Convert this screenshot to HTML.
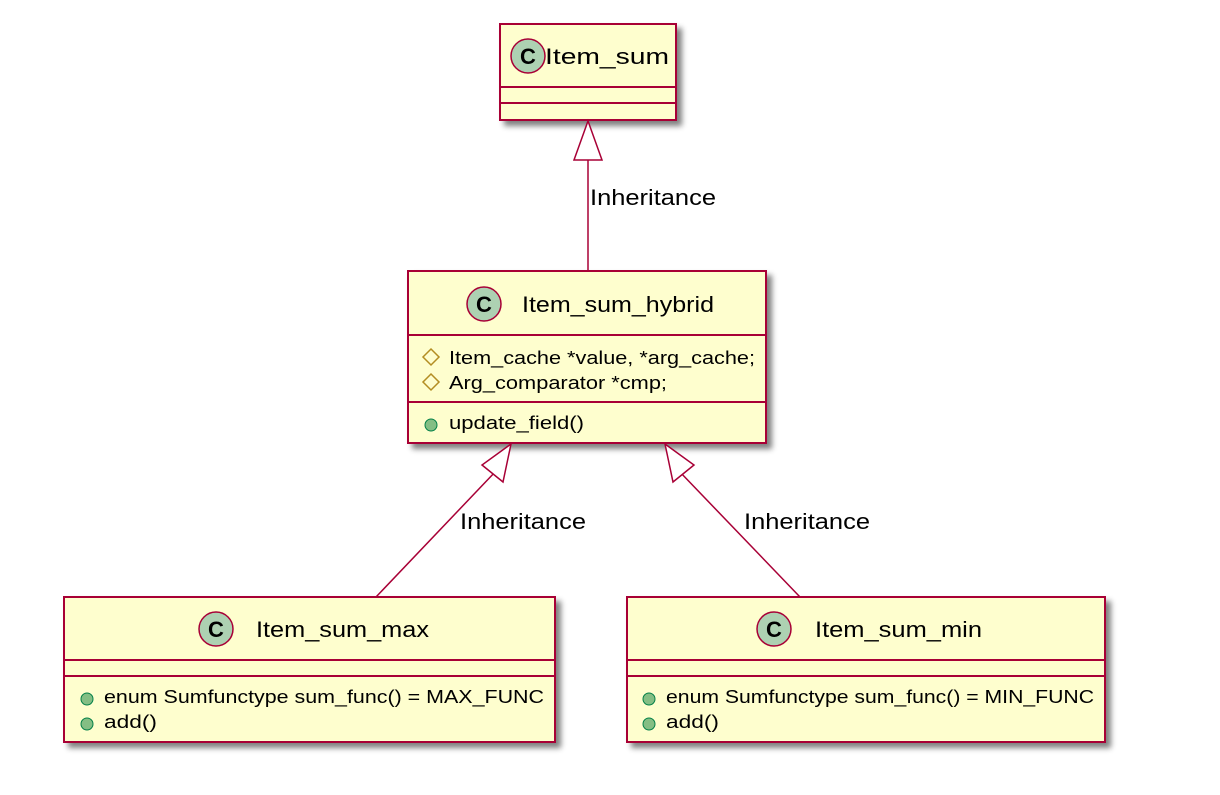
<!DOCTYPE html>
<html><head><style>body{margin:0;background:#fff}</style></head><body>
<svg width="1220" height="790" xmlns="http://www.w3.org/2000/svg" font-family="Liberation Sans, sans-serif">
<defs><filter id="s" x="-10%" y="-10%" width="130%" height="130%"><feGaussianBlur in="SourceAlpha" stdDeviation="3"/><feOffset dx="5" dy="5"/><feComponentTransfer><feFuncA type="linear" slope="0.5"/></feComponentTransfer><feMerge><feMergeNode/><feMergeNode in="SourceGraphic"/></feMerge></filter></defs>
<g stroke="#A80036" stroke-width="2" fill="#FEFECE">
<rect x="500" y="24" width="176" height="96" filter="url(#s)"/>
<line x1="500" y1="87" x2="676" y2="87"/><line x1="500" y1="103" x2="676" y2="103"/>
<rect x="408" y="271" width="358" height="172" filter="url(#s)"/>
<line x1="408" y1="335" x2="766" y2="335"/><line x1="408" y1="402" x2="766" y2="402"/>
<rect x="64" y="597" width="491" height="145" filter="url(#s)"/>
<line x1="64" y1="660" x2="555" y2="660"/><line x1="64" y1="676" x2="555" y2="676"/>
<rect x="627" y="597" width="478" height="145" filter="url(#s)"/>
<line x1="627" y1="660" x2="1105" y2="660"/><line x1="627" y1="676" x2="1105" y2="676"/>
</g>
<g stroke="#A80036" stroke-width="1.5" fill="none">
<line x1="588" y1="160" x2="588" y2="271"/>
<polygon points="588,121 574,160 602,160" fill="#fff"/>
<line x1="496" y1="471" x2="376" y2="597"/>
<polygon points="511,444 482,465 503,482" fill="#fff"/>
<line x1="679" y1="471" x2="800" y2="597"/>
<polygon points="665,444 694,465 673,482" fill="#fff"/>
</g>
<g fill="#ADD1B2" stroke="#A80036" stroke-width="1.5">
<circle cx="528" cy="56" r="17"/><circle cx="484" cy="304" r="17"/><circle cx="216" cy="629" r="17"/><circle cx="774" cy="629" r="17"/>
</g>
<g font-weight="bold" font-size="22" text-anchor="middle" fill="#000">
<text x="528" y="64">C</text><text x="484" y="312">C</text><text x="216" y="637">C</text><text x="774" y="637">C</text>
</g>
<g font-size="22" fill="#000">
<text x="545" y="64" textLength="124" lengthAdjust="spacingAndGlyphs">Item_sum</text>
<text x="522" y="312" textLength="192" lengthAdjust="spacingAndGlyphs">Item_sum_hybrid</text>
<text x="256" y="637" textLength="173" lengthAdjust="spacingAndGlyphs">Item_sum_max</text>
<text x="815" y="637" textLength="167" lengthAdjust="spacingAndGlyphs">Item_sum_min</text>
<text x="590" y="205" textLength="126" lengthAdjust="spacingAndGlyphs">Inheritance</text>
<text x="460" y="529" textLength="126" lengthAdjust="spacingAndGlyphs">Inheritance</text>
<text x="744" y="529" textLength="126" lengthAdjust="spacingAndGlyphs">Inheritance</text>
</g>
<g font-size="18" fill="#000">
<text x="449" y="364" textLength="306" lengthAdjust="spacingAndGlyphs">Item_cache *value, *arg_cache;</text>
<text x="449" y="389" textLength="218" lengthAdjust="spacingAndGlyphs">Arg_comparator *cmp;</text>
<text x="449" y="429" textLength="135" lengthAdjust="spacingAndGlyphs">update_field()</text>
<text x="104" y="703" textLength="440" lengthAdjust="spacingAndGlyphs">enum Sumfunctype sum_func() = MAX_FUNC</text>
<text x="104" y="728" textLength="53" lengthAdjust="spacingAndGlyphs">add()</text>
<text x="666" y="703" textLength="428" lengthAdjust="spacingAndGlyphs">enum Sumfunctype sum_func() = MIN_FUNC</text>
<text x="666" y="728" textLength="53" lengthAdjust="spacingAndGlyphs">add()</text>
</g>
<g fill="none" stroke="#B38D22" stroke-width="1.5">
<polygon points="431,349 439,357 431,365 423,357"/><polygon points="431,374 439,382 431,390 423,382"/>
</g>
<g fill="#84BE84" stroke="#038048" stroke-width="1">
<circle cx="431" cy="425" r="6"/><circle cx="87" cy="699" r="6"/><circle cx="87" cy="724" r="6"/><circle cx="649" cy="699" r="6"/><circle cx="649" cy="724" r="6"/>
</g>
</svg>
</body></html>
